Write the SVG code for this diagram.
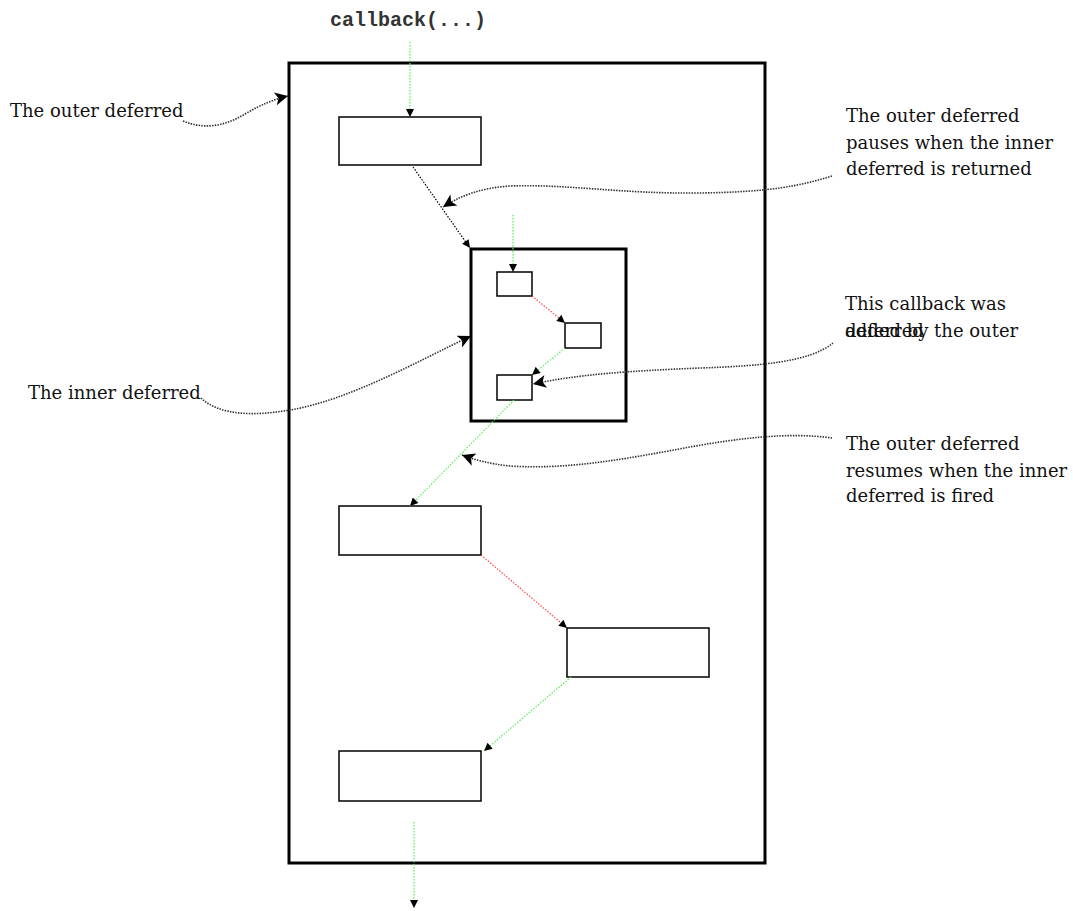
<svg xmlns="http://www.w3.org/2000/svg" width="1073" height="911" viewBox="0 0 1073 911">
<style>
.frame{fill:none;stroke:#000;stroke-width:3}
.box{fill:#fff;stroke:#000;stroke-width:1.5}
.lbl{font-family:"DejaVu Serif","Liberation Serif",serif;font-size:18px;fill:#111}
.mono{font-family:"Liberation Mono","Courier New",monospace;font-size:20px;font-weight:bold;fill:#333}
.g{fill:none;stroke:#55ee55;stroke-width:1.2;stroke-dasharray:1.5 1.5;marker-end:url(#sm)}
.r{fill:none;stroke:#ff4444;stroke-width:1.2;stroke-dasharray:1.5 1.5;marker-end:url(#sm)}
.k{fill:none;stroke:#000;stroke-width:1.2;stroke-dasharray:1.5 1.5;marker-end:url(#sm)}
.ann{fill:none;stroke:#333;stroke-width:1.6;stroke-dasharray:1.5 1.2;marker-end:url(#big)}
</style>
<defs>
<marker id="sm" viewBox="0 0 10 10" refX="10" refY="5" markerWidth="9" markerHeight="8" markerUnits="userSpaceOnUse" orient="auto">
<path d="M0,0 L10,5 L0,10 Z" fill="#000"/>
</marker>
<marker id="big" viewBox="0 0 10 10" refX="10" refY="5" markerWidth="18" markerHeight="13" markerUnits="userSpaceOnUse" orient="auto">
<path d="M0,0 L10,5 L0,10 L2.5,5 Z" fill="#000"/>
</marker>
</defs>

<g id="outer-deferred"><rect class="frame" x="289" y="63" width="476" height="800"/></g>
<g id="inner-deferred"><rect class="frame" x="471" y="249" width="155" height="172"/></g>

<g id="box1"><rect class="box" x="339" y="117" width="142" height="48"/></g>
<g id="inner-box-a"><rect class="box" x="497" y="272" width="35" height="24"/></g>
<g id="inner-box-b"><rect class="box" x="565" y="323" width="36" height="25"/></g>
<g id="inner-box-c"><rect class="box" x="497" y="375" width="35" height="25"/></g>
<g id="box2"><rect class="box" x="339" y="506" width="142" height="49"/></g>
<g id="box3"><rect class="box" x="567" y="628" width="142" height="49"/></g>
<g id="box4"><rect class="box" x="339" y="751" width="142" height="50"/></g>

<g id="label-callback"><text class="mono" x="330" y="26">callback(...)</text></g>
<g id="label-outer"><text class="lbl" x="10" y="117">The outer deferred</text></g>
<g id="label-inner"><text class="lbl" x="28" y="399">The inner deferred</text></g>
<g id="label-pauses">
<text class="lbl" x="846" y="122">The outer deferred</text>
<text class="lbl" x="846" y="149">pauses when the inner</text>
<text class="lbl" x="846" y="175">deferred is returned</text>
</g>
<g id="label-added">
<text class="lbl" x="845" y="310">This callback was</text>
<text class="lbl" x="845" y="337">added by the outer</text>
<text class="lbl" x="845" y="337">deferred</text>
</g>
<g id="label-resumes">
<text class="lbl" x="846" y="450">The outer deferred</text>
<text class="lbl" x="846" y="477">resumes when the inner</text>
<text class="lbl" x="846" y="502">deferred is fired</text>
</g>

<g id="connectors">
<path class="g" d="M410,42 L410,117"/>
<path class="k" d="M413,167 L470,248"/>
<path class="g" d="M513,215 L513,272"/>
<path class="r" d="M532,296 L565,323"/>
<path class="g" d="M565,348 L532,375"/>
<path class="g" d="M514,400 L410,506"/>
<path class="r" d="M481,555 L567,628"/>
<path class="g" d="M571,677 L484,751"/>
<path class="g" d="M414,822 L414,908"/>

<path class="ann" d="M183,121 C205,130 225,126 245,114 C262,104 275,99 288,96"/>
<path class="ann" d="M832,176 C800,186 770,192 700,193 C620,194 570,184 510,186 C480,188 460,196 443,207"/>
<path class="ann" d="M833,343 C810,362 760,366 700,368 C630,371 580,374 533,384"/>
<path class="ann" d="M201,398 C220,416 255,416 290,410 C350,400 420,360 471,336"/>
<path class="ann" d="M832,438 C790,432 740,438 690,447 C630,458 570,470 510,466 C490,464 475,460 462,455"/>
</g>
</svg>
